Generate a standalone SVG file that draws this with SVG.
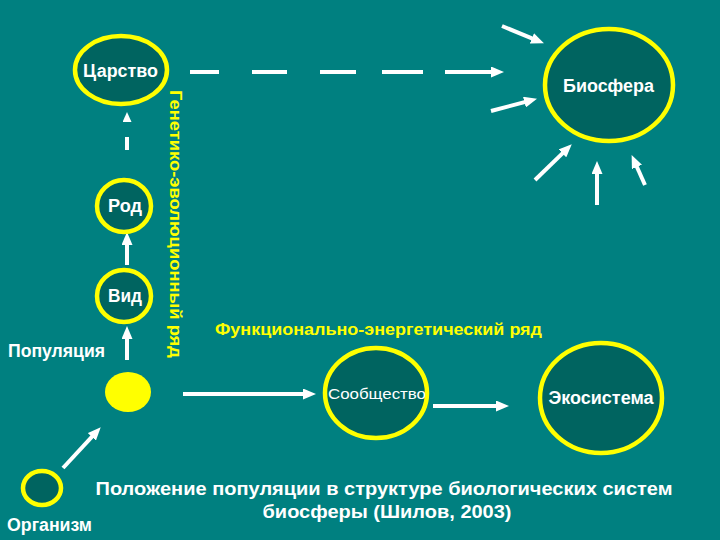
<svg xmlns="http://www.w3.org/2000/svg" width="720" height="540" viewBox="0 0 720 540">
<defs>
<style>
.node{fill:#006460;stroke:#FFFF00;stroke-width:4.5}
.pop{fill:#FFFF00;stroke:none}
.lbl{font-family:"Liberation Sans",Arial,sans-serif;font-weight:bold;fill:#FFFFFF;font-size:18px}
.yel{font-family:"Liberation Sans",Arial,sans-serif;font-weight:bold;fill:#FFFF00;font-size:17px}
.arr{stroke:#FFFFFF;stroke-width:4;fill:none;marker-end:url(#ah)}
</style>
<marker id="ah" markerUnits="userSpaceOnUse" markerWidth="13" markerHeight="11" refX="4" refY="5.5" orient="auto" viewBox="0 0 13 11">
<path d="M0,0 L13,5.5 L0,11 z" fill="#FFFFFF"/>
</marker>
<marker id="ahs" markerUnits="userSpaceOnUse" markerWidth="10" markerHeight="9" refX="2" refY="4.5" orient="auto" viewBox="0 0 10 9">
<path d="M0,0 L10,4.5 L0,9 z" fill="#FFFFFF"/>
</marker>
</defs>
<rect width="720" height="540" fill="#008080"/>

<g id="connectors">
<path class="arr" d="M190 72 H219 M252 72 H287 M320 72 H356 M382 72 H423 M445 72 H495"/>
<path d="M127 150 V137 M127 122 V120" stroke="#FFFFFF" stroke-width="4" fill="none" marker-end="url(#ahs)"/>
<line class="arr" x1="502" y1="26" x2="535.6" y2="39.9"/>
<line class="arr" x1="491" y1="111" x2="528.3" y2="101.1"/>
<line class="arr" x1="535" y1="180" x2="565.3" y2="150.6"/>
<line class="arr" x1="597" y1="205" x2="597" y2="170"/>
<line class="arr" x1="645" y1="185" x2="635.3" y2="163.3"/>
<line class="arr" x1="127" y1="265" x2="127" y2="241"/>
<line class="arr" x1="127" y1="360" x2="127" y2="335"/>
<line class="arr" x1="183" y1="394" x2="307" y2="394"/>
<line class="arr" x1="433" y1="406" x2="500" y2="406"/>
<line class="arr" x1="63" y1="468" x2="94.6" y2="433.9"/>
</g>

<g id="tsarstvo">
<ellipse class="node" cx="121" cy="70" rx="46" ry="34"/>
<text class="lbl" x="120.5" y="77" text-anchor="middle" textLength="75" lengthAdjust="spacingAndGlyphs">Царство</text>
</g>
<g id="biosfera">
<ellipse class="node" cx="609" cy="85" rx="64" ry="56"/>
<text class="lbl" x="608.5" y="92" text-anchor="middle" textLength="91" lengthAdjust="spacingAndGlyphs">Биосфера</text>
</g>
<g id="rod">
<ellipse class="node" cx="124" cy="206" rx="27" ry="26"/>
<text class="lbl" x="125" y="212" text-anchor="middle" textLength="34" lengthAdjust="spacingAndGlyphs">Род</text>
</g>
<g id="vid">
<ellipse class="node" cx="124" cy="296" rx="27" ry="26"/>
<text class="lbl" x="125" y="302" text-anchor="middle" textLength="34" lengthAdjust="spacingAndGlyphs">Вид</text>
</g>
<g id="populyatsiya">
<text class="lbl" x="8" y="357" textLength="97" lengthAdjust="spacingAndGlyphs">Популяция</text>
<ellipse class="pop" cx="128" cy="392" rx="23" ry="20"/>
</g>
<g id="soobshchestvo">
<ellipse class="node" cx="376" cy="393" rx="51" ry="45"/>
<text class="lbl" x="377" y="399" text-anchor="middle" style="font-weight:normal;font-size:15px" textLength="98" lengthAdjust="spacingAndGlyphs">Сообщество</text>
</g>
<g id="ekosistema">
<ellipse class="node" cx="601" cy="398" rx="61" ry="55"/>
<text class="lbl" x="601" y="404" text-anchor="middle" textLength="105" lengthAdjust="spacingAndGlyphs">Экосистема</text>
</g>
<g id="organizm">
<ellipse class="node" cx="42" cy="488" rx="19" ry="17"/>
<text class="lbl" x="7" y="531" textLength="85" lengthAdjust="spacingAndGlyphs">Организм</text>
</g>

<g id="labels">
<text class="yel" transform="translate(170,90) rotate(90)" textLength="268" lengthAdjust="spacingAndGlyphs">Генетико-эволюционный ряд</text>
<text class="yel" x="215" y="335" textLength="327" lengthAdjust="spacingAndGlyphs">Функционально-энергетический ряд</text>
<text class="lbl" x="384" y="495" text-anchor="middle" textLength="577" lengthAdjust="spacingAndGlyphs">Положение популяции в структуре биологических систем</text>
<text class="lbl" x="387" y="518" text-anchor="middle" textLength="249" lengthAdjust="spacingAndGlyphs">биосферы (Шилов, 2003)</text>
</g>
</svg>
